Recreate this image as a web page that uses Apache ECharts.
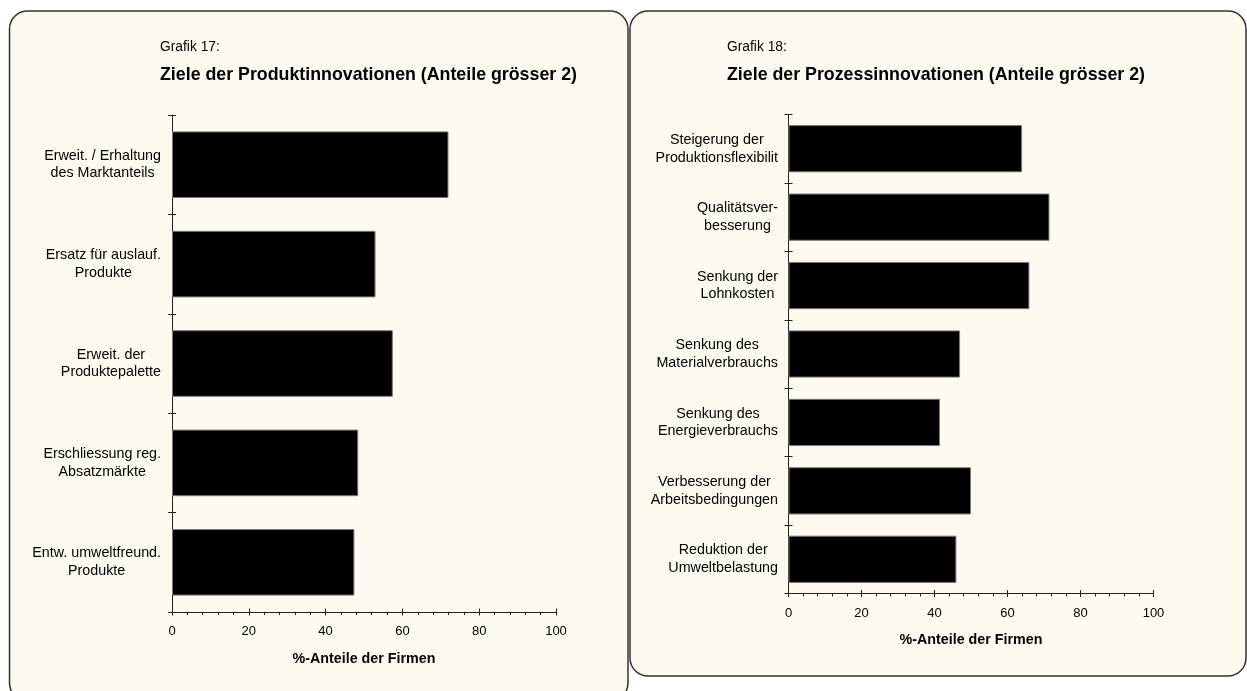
<!DOCTYPE html>
<html>
<head>
<meta charset="utf-8">
<title>Ziele der Produkt- und Prozessinnovationen</title>
<script src="https://cdn.jsdelivr.net/npm/echarts@6/dist/echarts.min.js"></script>
<style>
  html, body { margin: 0; padding: 0; background: #ffffff; }
  #chart { width: 1247px; height: 691px; }
</style>
</head>
<body>
<div id="chart"></div>
<script>
// Grafik 17: Ziele der Produktinnovationen
const prodCategories = [
  'Erweit. / Erhaltung\ndes Marktanteils',
  'Ersatz für auslauf.\nProdukte',
  'Erweit. der\nProduktepalette',
  'Erschliessung reg.\nAbsatzmärkte',
  'Entw. umweltfreund.\nProdukte'
];
const prodValues = [72, 53, 57.5, 48.5, 47.5];

// Grafik 18: Ziele der Prozessinnovationen
const procCategories = [
  'Steigerung der\nProduktionsflexibilit',
  'Qualitätsver-\nbesserung',
  'Senkung der\nLohnkosten',
  'Senkung des\nMaterialverbrauchs',
  'Senkung des\nEnergieverbrauchs',
  'Verbesserung der\nArbeitsbedingungen',
  'Reduktion der\nUmweltbelastung'
];
const procValues = [64, 71.5, 66, 47, 41.5, 50, 46];

// shared value scale (percent of firms)
const xMin = 0;
const xMax = 100;
const xStep = 20;
const axisTitle = '%-Anteile der Firmen';

const FONT = '"Liberation Sans", Arial, Helvetica, sans-serif';
const INK = '#222222';
const PANEL = '#fefaef';

const chart = echarts.init(document.getElementById('chart'), null, { renderer: 'canvas' });

// multi-line category labels: block right-aligned at the axis, lines centred inside it
function centredLines(v) {
  return v.split('\n').map(s => '{c|' + s + '}').join('\n');
}

function valueAxes(gridIndex) {
  return [
    {
      type: 'value', gridIndex, position: 'bottom',
      min: xMin, max: xMax, interval: xStep,
      axisLine: { show: true, lineStyle: { color: INK, width: 1 } },
      axisTick: { show: true, inside: false, length: 3.5, lineStyle: { color: INK } },
      minorTick: { show: true, splitNumber: 5, length: 3, lineStyle: { color: INK } },
      splitLine: { show: false },
      minorSplitLine: { show: false },
      axisLabel: { margin: 13, color: '#000', fontSize: 13, fontFamily: FONT },
      name: axisTitle, nameLocation: 'middle', nameGap: 40,
      nameTextStyle: { color: '#000', fontSize: 14.3, fontWeight: 'bold', fontFamily: FONT }
    },
    {
      // upper half of the crossing major ticks
      type: 'value', gridIndex, position: 'bottom',
      min: xMin, max: xMax, interval: xStep,
      axisLine: { show: false },
      axisTick: { show: true, inside: true, length: 3.5, lineStyle: { color: INK } },
      splitLine: { show: false },
      axisLabel: { show: false }
    }
  ];
}

function categoryAxes(gridIndex, cats, margin) {
  return [
    {
      type: 'category', gridIndex, position: 'left', inverse: true, data: cats,
      axisLine: { show: true, lineStyle: { color: INK, width: 1 } },
      axisTick: { show: true, inside: false, length: 4, lineStyle: { color: INK } },
      splitLine: { show: false },
      axisLabel: {
        margin, interval: 0, color: '#000', fontSize: 14.3, fontFamily: FONT,
        formatter: centredLines,
        rich: { c: { align: 'center', fontSize: 14.3, lineHeight: 17.7, fontFamily: FONT, color: '#000' } }
      }
    },
    {
      // right half of the crossing category ticks
      type: 'category', gridIndex, position: 'left', inverse: true, data: cats,
      axisLine: { show: false },
      axisTick: { show: true, inside: true, length: 4, lineStyle: { color: INK } },
      splitLine: { show: false },
      axisLabel: { show: false }
    }
  ];
}

const barStyle = { color: '#000000', borderColor: '#7a7a7a', borderWidth: 1 };

function panel(x, y, w, h) {
  return {
    type: 'rect', z: -10, silent: true,
    shape: { x, y, width: w, height: h, r: 18 },
    style: { fill: PANEL, stroke: '#333333', lineWidth: 1.5 }
  };
}

function label(x, y, text, size, weight) {
  return {
    type: 'text', z: 10, silent: true, x, y,
    style: {
      text, fill: '#000', fontSize: size, fontWeight: weight, fontFamily: FONT,
      align: 'left', verticalAlign: 'middle'
    }
  };
}

const option = {
  backgroundColor: '#ffffff',
  animation: false,
  graphic: {
    elements: [
      panel(9.5, 11, 618.5, 690),
      panel(630, 11, 616, 665),
      label(160, 47, 'Grafik 17:', 13.8, 'normal'),
      label(160, 75, 'Ziele der Produktinnovationen (Anteile grösser 2)', 17.8, 'bold'),
      label(727, 47, 'Grafik 18:', 13.8, 'normal'),
      label(727, 75, 'Ziele der Prozessinnovationen (Anteile grösser 2)', 17.8, 'bold')
    ]
  },
  grid: [
    { left: 172, top: 115, width: 384, height: 497, containLabel: false },
    { left: 788.5, top: 114.5, width: 365, height: 479, containLabel: false }
  ],
  xAxis: [...valueAxes(0), ...valueAxes(1)],
  yAxis: [...categoryAxes(0, prodCategories, 11), ...categoryAxes(1, procCategories, 10.5)],
  series: [
    {
      name: 'Produktinnovationen', type: 'bar', xAxisIndex: 0, yAxisIndex: 0,
      data: prodValues, barCategoryGap: '33%', itemStyle: barStyle
    },
    {
      name: 'Prozessinnovationen', type: 'bar', xAxisIndex: 2, yAxisIndex: 2,
      data: procValues, barCategoryGap: '31%', itemStyle: barStyle
    }
  ]
};

chart.setOption(option);
</script>
</body>
</html>
